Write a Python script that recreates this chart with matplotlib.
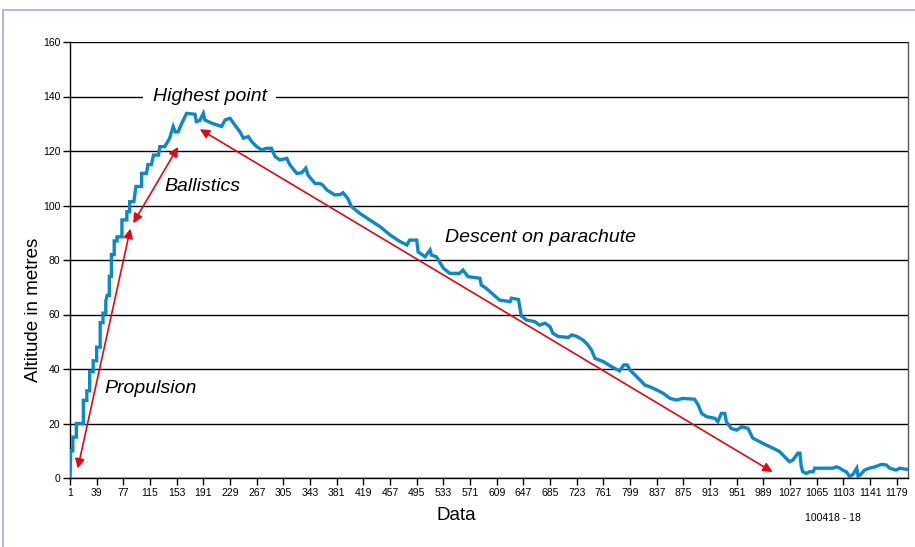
import matplotlib
matplotlib.use("Agg")
import matplotlib.pyplot as plt
from matplotlib.lines import Line2D

plt.rcParams['font.family'] = ['Liberation Sans', 'DejaVu Sans']

# altitude trace (sample index, metres)
sample = [1, 2, 5, 5, 10, 10, 20, 20, 25, 25, 29, 29, 34, 34, 39, 39, 44, 44,
          48, 48, 52, 52, 54, 57, 57, 60, 60, 64, 64, 68, 68, 75, 75, 82, 82,
          86, 86, 92, 95, 103, 103, 110, 112, 117, 120, 127, 129, 136, 143,
          148, 151, 155, 160, 167, 179, 181, 186, 191, 193, 203, 217, 222,
          229, 236, 243, 248, 255, 260, 267, 274, 281, 288, 293, 300, 310,
          314, 324, 331, 337, 340, 350, 357, 361, 367, 378, 386, 390, 397,
          402, 414, 428, 443, 457, 471, 481, 485, 495, 497, 507, 514, 516,
          523, 533, 542, 556, 561, 568, 585, 587, 594, 613, 628, 630, 640,
          644, 651, 663, 670, 678, 685, 689, 697, 711, 716, 723, 732, 739,
          744, 749, 761, 773, 784, 790, 795, 799, 806, 813, 820, 827, 837,
          846, 856, 865, 874, 891, 896, 901, 908, 920, 924, 929, 934, 936,
          943, 951, 958, 967, 974, 984, 993, 1003, 1012, 1026, 1031, 1038,
          1041, 1043, 1045, 1050, 1055, 1060, 1062, 1088, 1093, 1098, 1102,
          1107, 1112, 1117, 1122, 1124, 1129, 1133, 1140, 1148, 1157, 1164,
          1169, 1178, 1183, 1193, 1195]
altitude = [0, 10, 10, 15, 15, 20, 20, 28.5, 28.5, 32, 32, 39, 39, 43, 43, 48,
            48, 57, 57, 60.5, 60.5, 65, 67, 67, 74, 74, 82, 82, 87, 87, 88.5,
            88.5, 94.7, 94.7, 97.7, 97.7, 101.4, 101.4, 107, 107, 111.8,
            111.8, 115, 115, 118.5, 118.5, 121.6, 121.6, 124.7, 129, 127, 127,
            130, 133.8, 133.5, 130.8, 131.2, 133.8, 131.4, 130.2, 129, 131.4,
            132, 129.5, 127.1, 124.7, 125.3, 123.4, 121.6, 120.4, 121, 121,
            118, 116.7, 117.3, 115, 111.8, 112, 113.7, 111.2, 108.1, 108.1,
            107.5, 105.7, 103.9, 104, 104.7, 102.5, 99.6, 97.1, 94.7, 92.2,
            89.2, 86.8, 85.5, 87.3, 87.3, 83, 81.2, 83.7, 81.8, 81.2, 77,
            75.1, 75.1, 76.3, 73.9, 73.3, 70.8, 69.6, 65.3, 64.7, 66, 65.5,
            59.5, 58, 57.4, 56.1, 56.8, 55.5, 53.1, 51.9, 51.6, 52.5, 52,
            50.6, 48.8, 47, 43.9, 42.7, 40.8, 39.3, 41.5, 41.5, 39.6, 37.8,
            36, 34.1, 33.5, 32.3, 31.1, 29.2, 28.6, 29.2, 28.9, 26.8, 23.7,
            22.5, 21.9, 20.7, 23.7, 23.7, 20.7, 18.2, 17.6, 18.8, 18.2, 14.6,
            13.3, 12.1, 10.9, 9.7, 6, 6.6, 9.1, 9.1, 4.1, 2.3, 1.7, 2.3, 2.3,
            3.6, 3.6, 4.1, 3.6, 2.9, 2.3, 0.5, 1.5, 3.6, 0.5, 1.7, 2.9, 3.6,
            4.1, 5, 4.8, 3.6, 2.9, 3.6, 3.2, 3.2]

x_ticks = list(range(1, 1180, 38))
y_ticks = [0, 20, 40, 60, 80, 100, 120, 140, 160]

# phase labels: arrow start, arrow end, label centre (sample, metres)
phases = [
    ("Propulsion", (12, 3.5), (87, 91.5), (116, 33)),
    ("Ballistics", (91, 93.5), (155, 121.5), (189, 107)),
    ("Descent on parachute", (186, 128), (1002, 2.2), (672, 88.4)),
]

blue = '#0a88cc'
red = '#e30613'

fig = plt.figure(figsize=(9.15, 5.47), dpi=100)
ax = fig.add_axes([70 / 915, 69 / 547, 838 / 915, 436 / 547])

ax.plot(sample, altitude, color=blue, lw=2.4, solid_joinstyle='miter', zorder=3)

ax.set_xlim(1, 1195)
ax.set_ylim(0, 160)
ax.set_xticks(x_ticks)
ax.set_yticks(y_ticks)
ax.tick_params(axis='both', labelsize=7.5, length=5, width=1, color='black', pad=2)
ax.yaxis.grid(True, color='black', lw=1)
ax.set_axisbelow(True)
for side in ['left', 'bottom', 'right']:
    ax.spines[side].set_color('black')
    ax.spines[side].set_linewidth(1)
ax.spines['right'].set_color('#555555')
ax.spines['top'].set_visible(False)

for name, start, end, pos in phases:
    ax.annotate('', xy=end, xytext=start,
                arrowprops=dict(arrowstyle='<|-|>', color=red, lw=1.2,
                                mutation_scale=14, shrinkA=0, shrinkB=0),
                zorder=4)
    ax.text(pos[0], pos[1], name, fontsize=14, style='italic',
            ha='center', va='center', zorder=5)

# white box breaks the 140 gridline but stays under the trace
ax.text(200, 140, "Highest point", fontsize=14, style='italic',
        ha='center', va='center', zorder=2,
        bbox=dict(facecolor='white', edgecolor='none', pad=7))

fig.text(33 / 915, 1 - 310 / 547, "Altitude in metres", rotation=90,
         fontsize=13.5, ha='center', va='center')
fig.text(456 / 915, 1 - 515 / 547, "Data", fontsize=13.5, ha='center', va='center')
fig.text(833 / 915, 1 - 518 / 547, "100418 - 18", fontsize=7.5, ha='center', va='center')

# light frame round the picture
fig.add_artist(Line2D([3 / 915, 3 / 915], [0, 1 - 10 / 547], color='#b4badf', lw=1.5))
fig.add_artist(Line2D([3 / 915, 1], [1 - 10 / 547, 1 - 10 / 547], color='#b4badf', lw=1.5))

fig.savefig('out.png', dpi=100)
